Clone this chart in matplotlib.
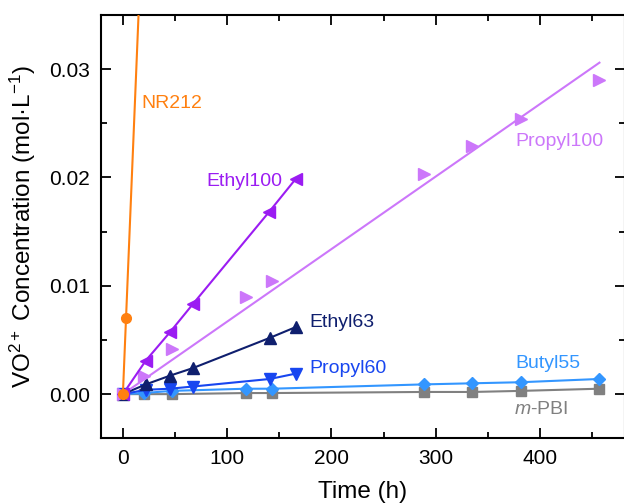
import matplotlib
matplotlib.use("Agg")
import matplotlib.pyplot as plt
from matplotlib.ticker import MultipleLocator, FormatStrFormatter

plt.rcParams["font.family"] = ["Liberation Sans", "DejaVu Sans"]
plt.rcParams["mathtext.fontset"] = "custom"
plt.rcParams["mathtext.rm"] = "Liberation Sans"
plt.rcParams["mathtext.it"] = "Liberation Sans:italic"

# ---- data ----
nr212_t = [0, 3]
nr212_c = [0.0, 0.0070]
nr212_fit_t = [0, 20]
nr212_fit_c = [0.0, 0.0467]

ethyl100_t = [0, 22, 45, 67, 140, 166]
ethyl100_c = [0.0, 0.0031, 0.0057, 0.0083, 0.0168, 0.0199]

propyl100_t = [0, 20, 47, 118, 143, 289, 335, 382, 457]
propyl100_c = [0.0, 0.0017, 0.0042, 0.0090, 0.0104, 0.0203, 0.0229, 0.0254, 0.0290]
propyl100_fit_t = [0, 457]
propyl100_fit_c = [0.0, 0.0306]

ethyl63_t = [0, 22, 45, 67, 141, 166]
ethyl63_c = [0.0, 0.0009, 0.0017, 0.0024, 0.0052, 0.0062]

propyl60_t = [0, 22, 45, 67, 141, 166]
propyl60_c = [0.0, 0.0004, 0.0005, 0.0007, 0.0014, 0.0019]

butyl55_t = [0, 20, 47, 118, 143, 289, 335, 382, 457]
butyl55_c = [0.0, 0.0001, 0.0003, 0.0005, 0.0005, 0.0009, 0.0010, 0.0011, 0.0014]

mpbi_t = [0, 20, 47, 118, 143, 289, 335, 382, 457]
mpbi_c = [0.0, 0.0, 0.0, 0.0001, 0.0001, 0.0002, 0.0002, 0.0003, 0.0005]

# colours
c_nr212 = "#FF8010"
c_ethyl100 = "#9B1CF2"
c_propyl100 = "#CC77FA"
c_ethyl63 = "#0F1F6E"
c_propyl60 = "#1846F0"
c_butyl55 = "#3396FF"
c_mpbi = "#808080"

fig = plt.figure(figsize=(6.24, 5.04), dpi=100)
ax = fig.add_axes([101 / 624, 1 - 438 / 504, 524 / 624, 423 / 504])

lw = 1.5
ms = 8.5

# lowest first so the top series sit above
ax.plot(mpbi_t, mpbi_c, color=c_mpbi, lw=lw, marker="s", ms=7, zorder=3)
ax.plot(butyl55_t, butyl55_c, color=c_butyl55, lw=lw, marker="D", ms=6.5, zorder=3)
ax.plot(propyl60_t, propyl60_c, color=c_propyl60, lw=lw, marker="v", ms=ms, zorder=3)
ax.plot(ethyl63_t, ethyl63_c, color=c_ethyl63, lw=lw, marker="^", ms=ms, zorder=3)
ax.plot(propyl100_fit_t, propyl100_fit_c, color=c_propyl100, lw=lw, zorder=3)
ax.plot(propyl100_t, propyl100_c, color=c_propyl100, ls="none", marker=">", ms=ms, zorder=3)
ax.plot(ethyl100_t, ethyl100_c, color=c_ethyl100, lw=lw, marker="<", ms=ms, zorder=3)
ax.plot(nr212_fit_t, nr212_fit_c, color=c_nr212, lw=lw, zorder=3)
ax.plot(nr212_t, nr212_c, color=c_nr212, ls="none", marker="o", ms=7, zorder=3)

fs = 14
ax.text(18, 0.0268, "NR212", color=c_nr212, fontsize=fs, va="center")
ax.text(80, 0.0196, "Ethyl100", color=c_ethyl100, fontsize=fs, va="center")
ax.text(376, 0.0233, "Propyl100", color=c_propyl100, fontsize=fs, va="center")
ax.text(179, 0.0066, "Ethyl63", color=c_ethyl63, fontsize=fs, va="center")
ax.text(179, 0.0024, "Propyl60", color=c_propyl60, fontsize=fs, va="center")
ax.text(376, 0.0028, "Butyl55", color=c_butyl55, fontsize=fs, va="center")
ax.text(375, -0.0014, "$\\it{m}$-PBI", color=c_mpbi, fontsize=fs, va="center")

ax.set_xlim(-21, 481.5)
ax.set_ylim(-0.00405, 0.035)

ax.xaxis.set_major_locator(MultipleLocator(100))
ax.xaxis.set_minor_locator(MultipleLocator(50))
ax.yaxis.set_major_locator(MultipleLocator(0.01))
ax.yaxis.set_minor_locator(MultipleLocator(0.005))
ax.yaxis.set_major_formatter(FormatStrFormatter("%.2f"))

ax.tick_params(which="both", direction="in", top=True, right=True, width=1.3)
ax.tick_params(which="major", length=7, labelsize=15, pad=8)
ax.tick_params(which="minor", length=4)
for s in ax.spines.values():
    s.set_linewidth(1.5)

ax.set_xlabel("Time (h)", fontsize=17.5, labelpad=9)
ax.set_ylabel("VO$^{2+}$ Concentration (mol\u00b7L$^{-1}$)", fontsize=17.5, labelpad=8)

fig.savefig("out.png", dpi=100)
